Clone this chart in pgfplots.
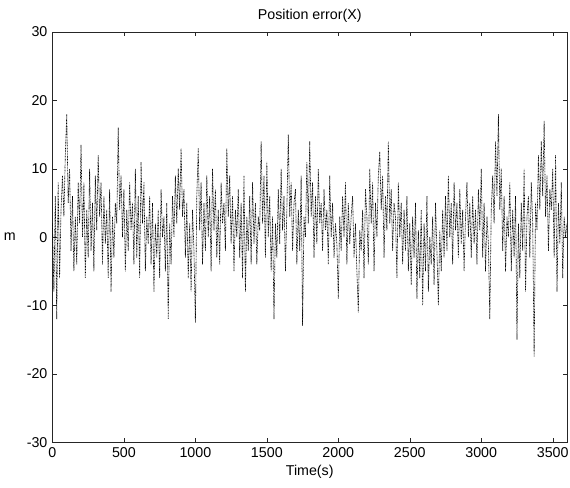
\documentclass[border=0pt]{standalone}
\usepackage{pgfplots}
\pgfplotsset{compat=1.18}
\usepackage{pgfplotstable}
\usepackage{fontspec}
\setmainfont{Liberation Sans}
\pgfplotstableread{
t v
0 2
10 -8
20 6
30 -12
40 8
50 -6
60 4
70 9
80 3
90 12
100 18
110 5
120 10
130 -2
140 6
150 -5
160 3
170 -4
180 8
190 2
200 13.5
210 0
220 8
230 -6
240 4
250 -3
260 10
270 -2
280 5
290 -5
300 9
310 1
320 12
330 3
340 8
350 -4
360 6
370 -1
380 4
390 -6
400 7
410 -8
420 3
430 -3
440 5
450 2
460 16
470 4
480 9
490 0
500 7
510 -5
520 4
530 -2
540 8
550 1
560 5
570 -4
580 10
590 -3
600 6
610 -6
620 11
630 2
640 8
650 -5
660 3
670 -1
680 6
690 -4
700 5
710 -8
720 2
730 -3
740 4
750 -6
760 7
770 0
780 3
790 -5
800 5
810 -12
820 2
830 -4
840 6
850 0
860 9
870 2
880 10
890 4
900 13
910 3
920 7
930 -3
940 5
950 -6
960 2
970 -8
980 4
990 -2
1000 -12.5
1010 6
1020 13
1030 1
1040 8
1050 -4
1060 5
1070 -2
1080 9
1090 0
1100 6
1110 -5
1120 10
1130 1
1140 7
1150 -3
1160 4
1170 -4
1180 8
1190 2
1200 5
1210 -2
1220 13
1230 3
1240 9
1250 -1
1260 6
1270 -5
1280 4
1290 0
1300 7
1310 -3
1320 5
1330 -6
1340 9
1350 -8
1360 3
1370 -2
1380 6
1390 -4
1400 8
1410 -1
1420 5
1430 -4
1440 3
1450 1
1460 14
1470 2
1480 9
1490 -3
1500 11
1510 0
1520 6
1530 -5
1540 3
1550 -12
1560 2
1570 -3
1580 7
1590 -1
1600 10
1610 1
1620 6
1630 -5
1640 4
1650 15
1660 3
1670 8
1680 -2
1690 5
1700 7
1710 -4
1720 4
1730 -2
1740 9
1750 -13
1760 3
1770 0
1780 11
1790 2
1800 14
1810 3
1820 8
1830 -3
1840 6
1850 -1
1860 10
1870 2
1880 5
1890 -2
1900 7
1910 1
1920 4
1930 -4
1940 9
1950 0
1960 5
1970 -3
1980 2
1990 -1
2000 -9
2010 3
2020 -2
2030 6
2040 0
2050 8
2060 -4
2070 5
2080 -1
2090 3
2100 6
2110 -3
2120 2
2130 -5
2140 -11
2150 1
2160 -2
2170 4
2180 -6
2190 7
2200 3
2210 -4
2220 10
2230 2
2240 8
2250 -5
2260 5
2270 0
2280 9
2290 12.5
2300 4
2310 9
2320 -3
2330 6
2340 1
2350 14
2360 2
2370 7
2380 -2
2390 5
2400 3
2410 -6
2420 8
2430 0
2440 5
2450 -4
2460 4
2470 -2
2480 6
2490 -5
2500 2
2510 -7
2520 3
2530 -3
2540 5
2550 -9
2560 1
2570 -6
2580 4
2590 -10
2600 2
2610 -5
2620 6
2630 -8
2640 0
2650 -4
2660 3
2670 -7
2680 5
2690 -2
2700 -10
2710 1
2720 -5
2730 4
2740 -3
2750 6
2760 -2
2770 9
2780 0
2790 5
2800 -4
2810 8
2820 1
2830 5
2840 -3
2850 7
2860 -1
2870 4
2880 -5
2890 3
2900 8
2910 0
2920 5
2930 -3
2940 6
2950 -1
2960 4
2970 -4
2980 7
2990 1
3000 10
3010 -3
3020 5
3030 -5
3040 3
3050 -1
3060 -12
3070 4
3080 9
3090 2
3100 14
3110 6
3120 18
3130 4
3140 10
3150 -2
3160 6
3170 -5
3180 3
3190 0
3200 8
3210 -5
3220 4
3230 -3
3240 6
3250 -15
3260 2
3270 -6
3280 5
3290 -2
3300 10
3310 -8
3320 3
3330 6
3340 -3
3350 8
3360 2
3370 -17.5
3380 5
3390 1
3400 12
3410 4
3420 14
3430 6
3440 17
3450 3
3460 9
3470 -2
3480 7
3490 4
3500 10
3510 -3
3520 12
3530 -8
3540 5
3550 -1
3560 8
3570 -6
3580 3
3590 0
3600 2
}\dataX
\begin{document}
\begin{tikzpicture}
\begin{axis}[
  scale only axis,
  width=361pt, height=287.7pt,
  xmin=0, xmax=3600, ymin=-30, ymax=30,
  xtick={0,500,...,3500},
  ytick={-30,-20,...,30},
  tick align=inside,
  major tick length=3pt,
  axis line style={black!85},
  tick style={black!85},
  /pgf/number format/assume math mode=true,
  /pgf/number format/1000 sep={},
  tick label style={font=\fontsize{10}{12}\selectfont},
  label style={font=\fontsize{10}{12}\selectfont},
  title style={font=\fontsize{10}{12}\selectfont, yshift=-3pt},
  title={Position error(X)},
  xlabel={Time(s)},
  ylabel={m},
  ylabel style={rotate=-90, at={(axis description cs:-0.083,0.5)}, anchor=center},
  xlabel style={yshift=1pt},
]
\addplot[black, line width=0.45pt, dash pattern=on 0.6pt off 0.5pt] table[x=t, y=v] {\dataX};
\end{axis}
\pgfresetboundingbox
\path ([shift={(-36.8pt,-31.6pt)}]current axis.south west) rectangle ([shift={(2.1pt,22.5pt)}]current axis.north east);
\end{tikzpicture}
\end{document}
